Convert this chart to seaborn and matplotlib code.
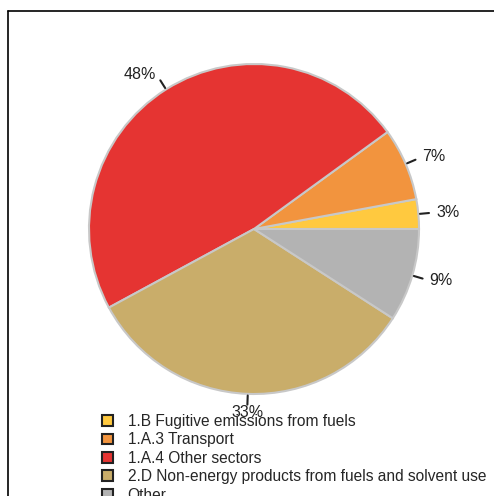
import numpy as np
import matplotlib.pyplot as plt
import seaborn as sns
from matplotlib.patches import Patch
from matplotlib.lines import Line2D

sectors = ['1.B Fugitive emissions from fuels', '1.A.3 Transport', '1.A.4 Other sectors',
           '2.D Non-energy products from fuels and solvent use', 'Other']
shares = [2.9, 7.1, 47.9, 33.0, 9.1]
pct_labels = ['3%', '7%', '48%', '33%', '9%']
colors = ['#ffc93f', '#f2943e', '#e53432', '#c9ad6a', '#b3b3b3']

sns.set_style('white')
plt.rcParams['font.family'] = ['Liberation Sans', 'DejaVu Sans']

W, H = 494, 496
fig = plt.figure(figsize=(W / 100, H / 100), dpi=100)

# pie centre (254, 229) px, radius 165 px
cx, cy, r, lim = 254, 229, 165, 1.2
half = r * lim
ax = fig.add_axes([(cx - half) / W, (H - cy - half) / H, 2 * half / W, 2 * half / H])
wedges, _ = ax.pie(shares, colors=colors, startangle=0, counterclock=True,
                   wedgeprops=dict(edgecolor='#c8c8c8', linewidth=1.5))
ax.set_xlim(-lim, lim)
ax.set_ylim(-lim, lim)
ax.set_aspect('equal')
ax.axis('off')

# percentage labels with small tick lines
for w, lab in zip(wedges, pct_labels):
    ang = np.deg2rad((w.theta1 + w.theta2) / 2)
    c, s = np.cos(ang), np.sin(ang)
    ax.plot([1.01 * c, 1.065 * c], [1.01 * s, 1.065 * s], color='#222222', lw=1.5)
    if abs(c) < 0.2:
        ha, va = 'center', ('bottom' if s > 0 else 'top')
        rr = 1.07
    else:
        ha, va = ('left' if c > 0 else 'right'), 'center'
        rr = 1.11
    ax.text(rr * c, rr * s, lab, ha=ha, va=va, fontsize=11.5, color='#222222')

# legend below the pie
handles = [Patch(facecolor=col, edgecolor='#222222', linewidth=1.5) for col in colors]
fig.legend(handles, sectors, loc='upper left', bbox_to_anchor=(102 / W, 1 - 414 / H),
           frameon=False, fontsize=11.2, handlelength=0.7, handleheight=0.7,
           handletextpad=0.95, labelspacing=0.22, borderaxespad=0, borderpad=0)

# outer frame (left and top edges visible)
fig.add_artist(Line2D([8 / W, 8 / W], [0, 1 - 11 / H], color='black', lw=1.2))
fig.add_artist(Line2D([8 / W, 1], [1 - 11 / H, 1 - 11 / H], color='black', lw=1.2))

fig.savefig('out.png', dpi=100)
